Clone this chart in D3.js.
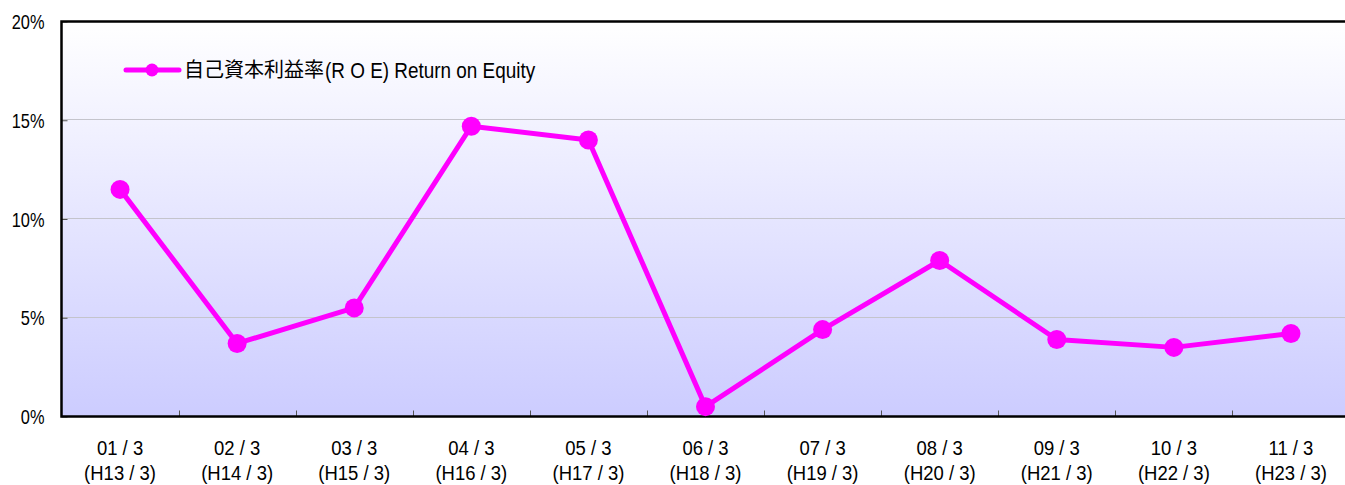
<!DOCTYPE html>
<html>
<head>
<meta charset="utf-8">
<script src="https://cdn.jsdelivr.net/npm/d3@7"></script>
<style>
  body { margin: 0; background: #fff; }
  svg { display: block; font-family: "Liberation Sans", Arial, sans-serif; }
</style>
</head>
<body>
<svg id="chart" width="1345" height="485"></svg>
<script>
// data
var years = ["01/3", "02/3", "03/3", "04/3", "05/3", "06/3", "07/3", "08/3", "09/3", "10/3", "11/3"];
var eraLabels = ["(H13/3)", "(H14/3)", "(H15/3)", "(H16/3)", "(H17/3)", "(H18/3)", "(H19/3)", "(H20/3)", "(H21/3)", "(H22/3)", "(H23/3)"];
var roe = [11.5, 3.7, 5.5, 14.7, 14.0, 0.5, 4.4, 7.9, 3.9, 3.5, 4.2];
var yTicks = [0, 5, 10, 15, 20];
var seriesJa = "自己資本利益率";
var seriesEn = "(R O E) Return on Equity";

var plotLeft = 61.5, plotRight = 1349.5, plotTop = 21.5, plotBottom = 416.5;

var svg = d3.select("#chart");

var defs = svg.append("defs");
var grad = defs.append("linearGradient")
    .attr("id", "bg")
    .attr("x1", 0).attr("y1", 0).attr("x2", 0).attr("y2", 1);
grad.append("stop").attr("offset", "0%").attr("stop-color", "#ffffff");
grad.append("stop").attr("offset", "100%").attr("stop-color", "#ccccff");

var x = d3.scaleBand()
    .domain(years)
    .range([plotLeft, plotRight])
    .padding(0);

var y = d3.scaleLinear()
    .domain([0, 20])
    .range([plotBottom, plotTop]);

function cx(i) { return x(years[i]) + x.bandwidth() / 2; }

// plot background
svg.append("rect")
    .attr("x", plotLeft).attr("y", plotTop)
    .attr("width", plotRight - plotLeft).attr("height", plotBottom - plotTop)
    .attr("fill", "url(#bg)");

// gridlines
svg.append("g")
    .selectAll("line")
    .data(yTicks.filter(function (d) { return d > 0 && d < 20; }))
    .enter()
    .append("line")
    .attr("x1", plotLeft).attr("x2", plotRight)
    .attr("y1", function (d) { return Math.round(y(d)) - 0.5; })
    .attr("y2", function (d) { return Math.round(y(d)) - 0.5; })
    .attr("stroke", "#c4c4cc")
    .attr("stroke-width", 1);

// y axis
var yAxis = d3.axisRight(y)
    .tickValues(yTicks)
    .tickSize(6)
    .tickFormat(function (d) { return d + "%"; });

var yg = svg.append("g")
    .attr("transform", "translate(" + plotLeft + ",0)")
    .call(yAxis);
yg.select(".domain").remove();
yg.selectAll(".tick line").attr("stroke", "#555");
// condensed look: squeeze the labels sideways
yg.selectAll(".tick text")
    .attr("x", 0)
    .attr("transform", "translate(-17,0) scale(0.82,1)")
    .attr("text-anchor", "end")
    .attr("dy", "0.36em")
    .attr("font-size", 20)
    .attr("fill", "#000");

// x axis ticks at category boundaries, pointing up
svg.append("g")
    .selectAll("line")
    .data(years.slice(1))
    .enter()
    .append("line")
    .attr("x1", function (d) { return Math.round(x(d)) + 0.5; })
    .attr("x2", function (d) { return Math.round(x(d)) + 0.5; })
    .attr("y1", plotBottom)
    .attr("y2", plotBottom - 6)
    .attr("stroke", "#555");

// x labels (two lines)
svg.append("g")
    .selectAll("text")
    .data(years)
    .enter()
    .append("text")
    .attr("transform", function (d, i) { return "translate(" + cx(i) + ",455) scale(0.88,1)"; })
    .attr("text-anchor", "middle")
    .attr("font-size", 21)
    .attr("fill", "#000")
    .style("white-space", "pre")
    .text(function (d) { return d.replace("/", " / "); });

svg.append("g")
    .selectAll("text")
    .data(eraLabels)
    .enter()
    .append("text")
    .attr("transform", function (d, i) { return "translate(" + cx(i) + ",480) scale(0.88,1)"; })
    .attr("text-anchor", "middle")
    .attr("font-size", 21)
    .attr("fill", "#000")
    .style("white-space", "pre")
    .text(function (d) { return d.replace("/", " / "); });

// plot frame (left, top, bottom)
svg.append("path")
    .attr("d", "M" + plotRight + "," + plotTop + "H" + plotLeft + "V" + plotBottom + "H" + plotRight)
    .attr("fill", "none")
    .attr("stroke", "#000")
    .attr("stroke-width", 2.5);

// series line
var line = d3.line()
    .x(function (d, i) { return cx(i); })
    .y(function (d) { return y(d); });

svg.append("path")
    .datum(roe)
    .attr("d", line)
    .attr("fill", "none")
    .attr("stroke", "#ff00ff")
    .attr("stroke-width", 5)
    .attr("stroke-linejoin", "round");

svg.append("g")
    .selectAll("circle")
    .data(roe)
    .enter()
    .append("circle")
    .attr("cx", function (d, i) { return cx(i); })
    .attr("cy", function (d) { return y(d); })
    .attr("r", 9.5)
    .attr("fill", "#ff00ff");

// legend
var legend = svg.append("g").attr("transform", "translate(126,70)");
legend.append("line")
    .attr("x1", 0).attr("x2", 53)
    .attr("y1", 0).attr("y2", 0)
    .attr("stroke", "#ff00ff")
    .attr("stroke-width", 5)
    .attr("stroke-linecap", "round");
legend.append("circle")
    .attr("cx", 26).attr("cy", 0).attr("r", 6.5)
    .attr("fill", "#ff00ff");
var ja = legend.append("text")
    .attr("x", 58)
    .attr("y", 0)
    .attr("dy", "0.36em")
    .attr("font-size", 20)
    .attr("fill", "#000")
    .attr("font-family", "'Noto Sans CJK JP', sans-serif")
    .text(seriesJa);
var jaEnd = 58 + ja.node().getComputedTextLength();
legend.append("text")
    .attr("transform", "translate(" + (jaEnd + 1) + ",0) scale(0.86,1)")
    .attr("dy", "0.36em")
    .attr("font-size", 22)
    .attr("fill", "#000")
    .style("white-space", "pre")
    .text(seriesEn);
</script>
</body>
</html>
